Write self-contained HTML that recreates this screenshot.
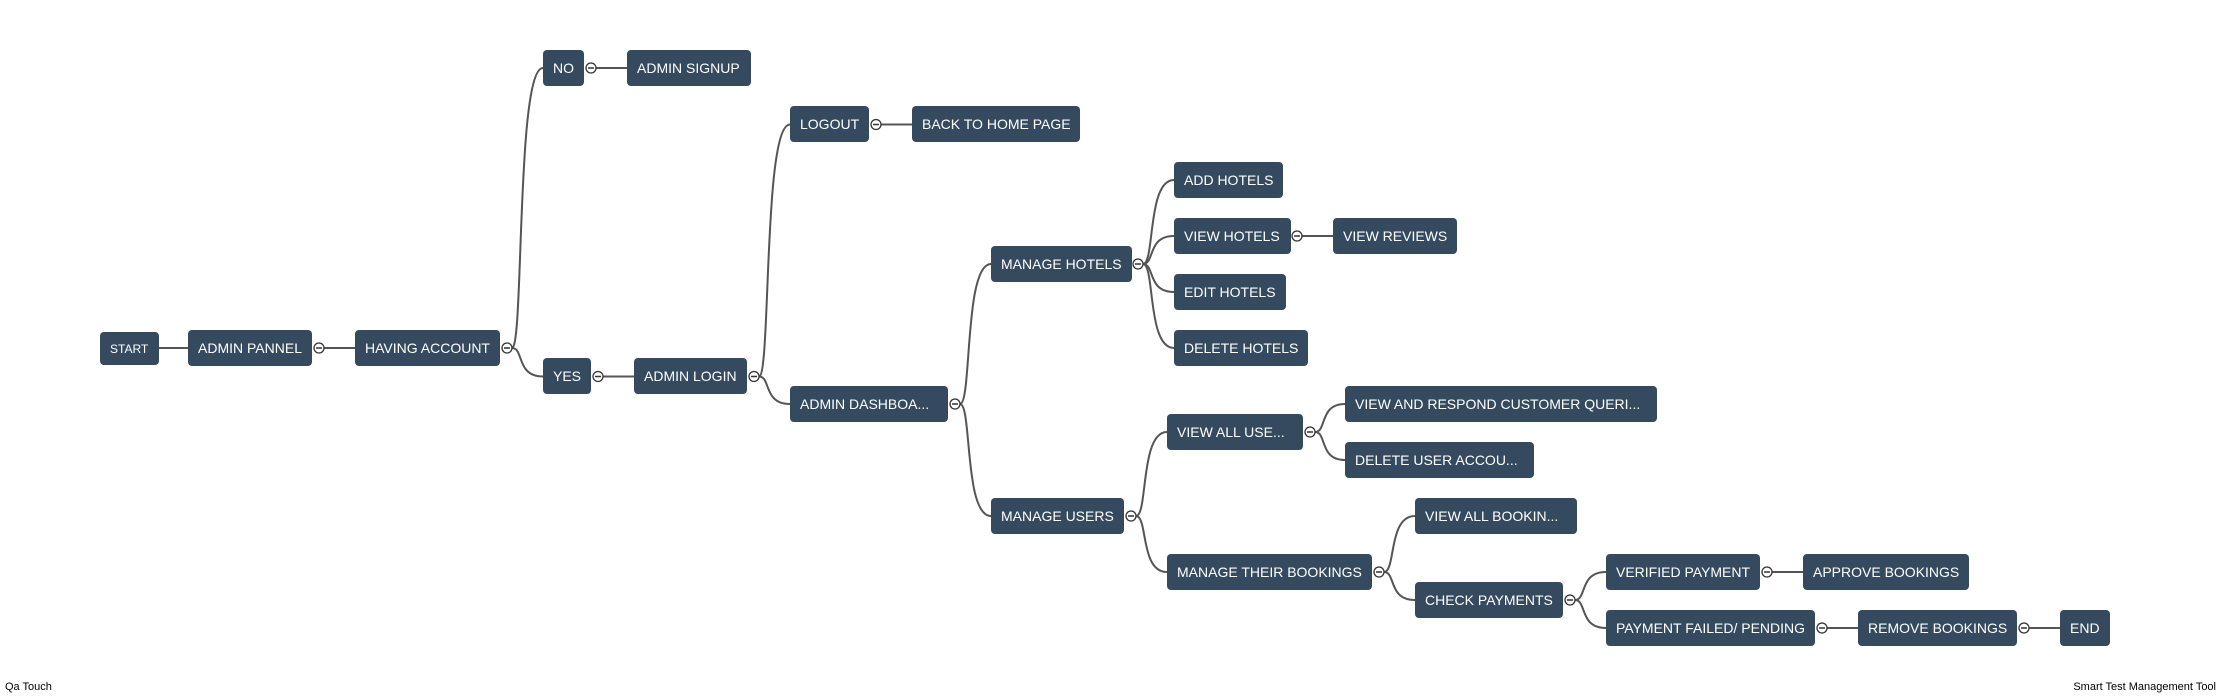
<!DOCTYPE html>
<html><head><meta charset="utf-8"><style>
body{margin:0;width:2223px;height:696px;background:#fff;position:relative;overflow:hidden;font-family:"Liberation Sans",sans-serif}
.n{position:absolute;background:#354a5f;color:#fff;border-radius:4px;font-size:14px;box-sizing:border-box;padding-left:10px;display:flex;align-items:center;white-space:nowrap;height:36px;overflow:hidden}
svg{position:absolute;left:0;top:0}
.f{position:absolute;font-size:11px;color:#000;top:681px}
</style></head><body>
<svg width="2223" height="696">
<g fill="none" stroke="#555" stroke-width="2">
<path d="M158 348H188"/>
<path d="M324 348H355"/>
<path d="M512 348C524 348 516 68 543 68"/>
<path d="M512 348C524 348 516 376.5 543 376.5"/>
<path d="M596 68H627"/>
<path d="M603 376.5H634"/>
<path d="M759 376.5C771 376.5 763 124.5 790 124.5"/>
<path d="M759 376.5C771 376.5 763 404 790 404"/>
<path d="M881 124.5H912"/>
<path d="M960 404C972 404 964 264 991 264"/>
<path d="M960 404C972 404 964 516 991 516"/>
<path d="M1143 264C1155 264 1147 180 1174 180"/>
<path d="M1143 264C1155 264 1147 236 1174 236"/>
<path d="M1143 264C1155 264 1147 292 1174 292"/>
<path d="M1143 264C1155 264 1147 348 1174 348"/>
<path d="M1302 236H1333"/>
<path d="M1136 516C1148 516 1140 432 1167 432"/>
<path d="M1136 516C1148 516 1140 572 1167 572"/>
<path d="M1315 432C1327 432 1319 404 1345 404"/>
<path d="M1315 432C1327 432 1319 460 1345 460"/>
<path d="M1384 572C1396 572 1388 516 1415 516"/>
<path d="M1384 572C1396 572 1388 600 1415 600"/>
<path d="M1575 600C1587 600 1579 572 1606 572"/>
<path d="M1575 600C1587 600 1579 628 1606 628"/>
<path d="M1772 572H1803"/>
<path d="M1827 628H1858"/>
<path d="M2029 628H2060"/>
</g>
<g fill="#fff" stroke="#333" stroke-width="1.3">
<circle cx="319" cy="348" r="5"/><circle cx="507" cy="348" r="5"/><circle cx="591" cy="68" r="5"/><circle cx="598" cy="376.5" r="5"/><circle cx="754" cy="376.5" r="5"/><circle cx="876" cy="124.5" r="5"/><circle cx="955" cy="404" r="5"/><circle cx="1138" cy="264" r="5"/><circle cx="1297" cy="236" r="5"/><circle cx="1131" cy="516" r="5"/><circle cx="1310" cy="432" r="5"/><circle cx="1379" cy="572" r="5"/><circle cx="1570" cy="600" r="5"/><circle cx="1767" cy="572" r="5"/><circle cx="1822" cy="628" r="5"/><circle cx="2024" cy="628" r="5"/>
</g>
<g stroke="#333" stroke-width="1.5">
<path d="M316 348h6M504 348h6M588 68h6M595 376.5h6M751 376.5h6M873 124.5h6M952 404h6M1135 264h6M1294 236h6M1128 516h6M1307 432h6M1376 572h6M1567 600h6M1764 572h6M1819 628h6M2021 628h6"/>
</g>
</svg>
<div class="n" style="left:100px;top:332px;width:59px;height:33px;font-size:12px">START</div>
<div class="n" style="left:188px;top:330px;width:124px">ADMIN PANNEL</div>
<div class="n" style="left:355px;top:330px;width:145px">HAVING ACCOUNT</div>
<div class="n" style="left:543px;top:50px;width:41px">NO</div>
<div class="n" style="left:627px;top:50px;width:124px">ADMIN SIGNUP</div>
<div class="n" style="left:543px;top:358px;width:48px">YES</div>
<div class="n" style="left:634px;top:358px;width:113px">ADMIN LOGIN</div>
<div class="n" style="left:790px;top:106px;width:79px">LOGOUT</div>
<div class="n" style="left:912px;top:106px;width:168px">BACK TO HOME PAGE</div>
<div class="n" style="left:790px;top:386px;width:158px">ADMIN DASHBOA...</div>
<div class="n" style="left:991px;top:246px;width:141px">MANAGE HOTELS</div>
<div class="n" style="left:991px;top:498px;width:133px">MANAGE USERS</div>
<div class="n" style="left:1174px;top:162px;width:109px">ADD HOTELS</div>
<div class="n" style="left:1174px;top:218px;width:117px">VIEW HOTELS</div>
<div class="n" style="left:1333px;top:218px;width:124px">VIEW REVIEWS</div>
<div class="n" style="left:1174px;top:274px;width:112px">EDIT HOTELS</div>
<div class="n" style="left:1174px;top:330px;width:134px">DELETE HOTELS</div>
<div class="n" style="left:1167px;top:414px;width:136px">VIEW ALL USE...</div>
<div class="n" style="left:1345px;top:386px;width:312px">VIEW AND RESPOND CUSTOMER QUERI...</div>
<div class="n" style="left:1345px;top:442px;width:189px">DELETE USER ACCOU...</div>
<div class="n" style="left:1415px;top:498px;width:162px">VIEW ALL BOOKIN...</div>
<div class="n" style="left:1167px;top:554px;width:205px">MANAGE THEIR BOOKINGS</div>
<div class="n" style="left:1415px;top:582px;width:148px">CHECK PAYMENTS</div>
<div class="n" style="left:1606px;top:554px;width:154px">VERIFIED PAYMENT</div>
<div class="n" style="left:1803px;top:554px;width:166px">APPROVE BOOKINGS</div>
<div class="n" style="left:1606px;top:610px;width:209px">PAYMENT FAILED/ PENDING</div>
<div class="n" style="left:1858px;top:610px;width:159px">REMOVE BOOKINGS</div>
<div class="n" style="left:2060px;top:610px;width:50px">END</div>
<div class="f" style="left:5px">Qa Touch</div>
<div class="f" style="right:7px">Smart Test Management Tool</div>
</body></html>
